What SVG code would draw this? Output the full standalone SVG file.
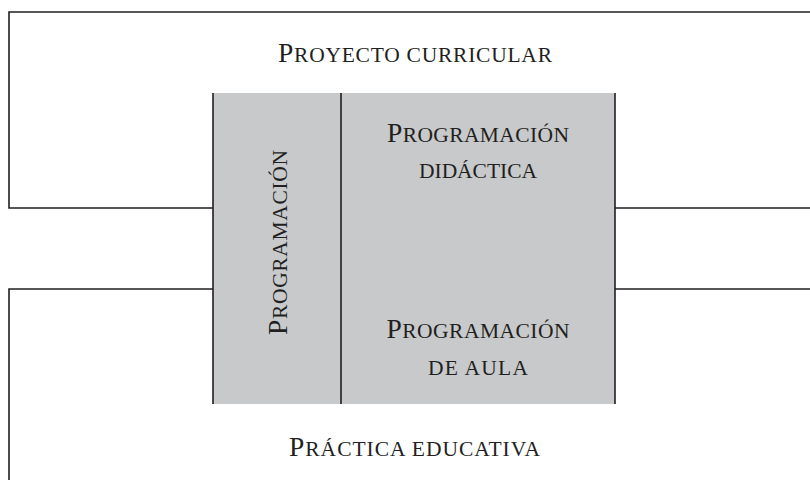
<svg xmlns="http://www.w3.org/2000/svg" width="810" height="480" viewBox="0 0 810 480">
<style>
.ln{fill:none;stroke:#231f20;stroke-width:1.6}
.box{fill:#c8c9cb}
.t{font-family:"Liberation Serif","Times New Roman",serif;font-size:21.5px;fill:#231f20;text-anchor:middle}
.c{font-size:27.5px}
</style>
<rect width="810" height="480" fill="#fff"/>
<g id="proyecto-curricular">
<path class="ln" d="M213,208 H9 V12 H810"/>
<text class="t" x="415" y="62" textLength="274" lengthAdjust="spacing"><tspan class="c">P</tspan>ROYECTO CURRICULAR</text>
</g>
<g id="practica-educativa">
<path class="ln" d="M213,289 H9 V482"/>
<text class="t" x="414.5" y="456" textLength="251" lengthAdjust="spacing"><tspan class="c">P</tspan>RÁCTICA EDUCATIVA</text>
</g>
<g id="programacion">
<rect class="box" x="213" y="93" width="402" height="311"/>
<path class="ln" d="M213,93 V404 M341,93 V404 M615,93 V404"/>
<text class="t" transform="translate(287,242.5) rotate(-90)" x="0" y="0" textLength="185" lengthAdjust="spacing"><tspan class="c">P</tspan>ROGRAMACIÓN</text>
</g>
<g id="programacion-didactica">
<text class="t" x="478" y="142" textLength="182" lengthAdjust="spacing"><tspan class="c">P</tspan>ROGRAMACIÓN</text>
<text class="t" x="478" y="178" textLength="118" lengthAdjust="spacing">DIDÁCTICA</text>
</g>
<g id="programacion-aula">
<text class="t" x="478" y="338" textLength="183" lengthAdjust="spacing"><tspan class="c">P</tspan>ROGRAMACIÓN</text>
<text class="t" x="478" y="375" textLength="100" lengthAdjust="spacing">DE AULA</text>
</g>
<g id="connectors">
<path class="ln" d="M615,208 H810 M615,289 H810"/>
</g>
</svg>
